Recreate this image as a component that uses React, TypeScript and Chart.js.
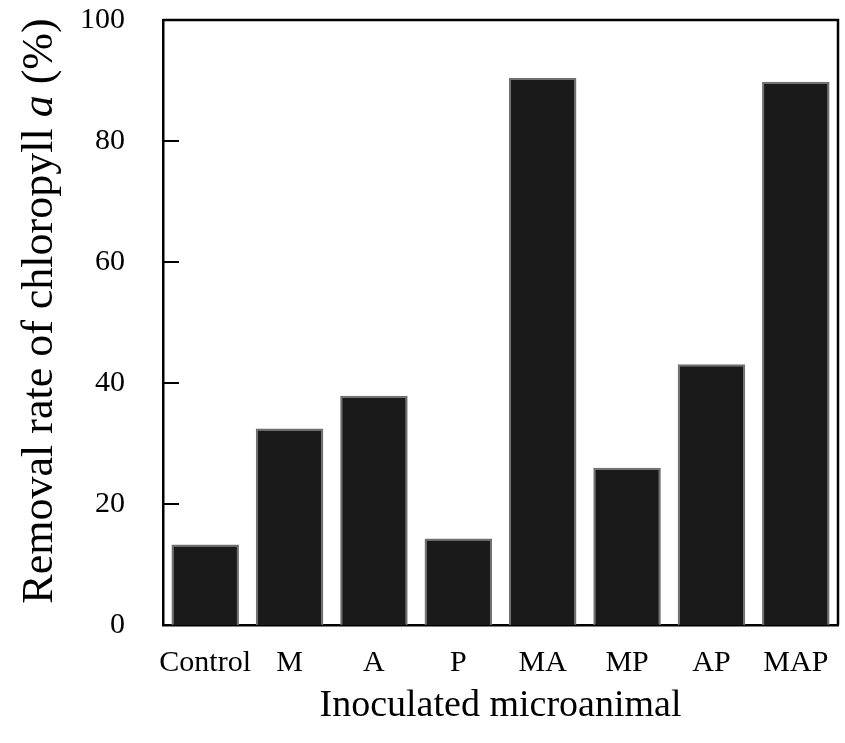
import React, { useEffect, useRef } from "react";
import { Chart, registerables } from "chart.js";

Chart.register(...registerables);

// Treatments and removal rates (%) of chlorophyll a
const categories = ["Control", "M", "A", "P", "MA", "MP", "AP", "MAP"];
const removalRate = [13.3, 32.5, 37.9, 14.3, 90.4, 26.0, 43.1, 89.8];
const yTicks = [0, 20, 40, 60, 80, 100];

const FONT = "'Liberation Serif', 'Times New Roman', serif";
const W = 845;
const H = 743;

// Frame lines, inward ticks and the axis titles (the y title has an italic "a")
const decorations = {
  id: "decorations",
  afterDraw(chart: any) {
    const { ctx, chartArea } = chart;
    const y = chart.scales.y;
    ctx.save();
    ctx.strokeStyle = "#000";
    ctx.lineWidth = 2.5;
    ctx.beginPath();
    ctx.moveTo(chartArea.left, chartArea.top);
    ctx.lineTo(chartArea.right, chartArea.top);
    ctx.lineTo(chartArea.right, chartArea.bottom);
    ctx.stroke();

    ctx.lineWidth = 2;
    for (const v of yTicks) {
      if (v === 0 || v === 100) continue;
      const py = y.getPixelForValue(v);
      ctx.beginPath();
      ctx.moveTo(chartArea.left, py);
      ctx.lineTo(chartArea.left + 16, py);
      ctx.stroke();
    }

    // x axis title
    ctx.fillStyle = "#000";
    ctx.font = `38px ${FONT}`;
    ctx.textAlign = "center";
    ctx.textBaseline = "middle";
    ctx.fillText("Inoculated microanimal", (chartArea.left + chartArea.right) / 2, 706);

    // y axis title, rotated
    const parts = [
      { t: "Removal rate of chloropyll ", f: `44px ${FONT}` },
      { t: "a", f: `italic 44px ${FONT}` },
      { t: " (%)", f: `44px ${FONT}` },
    ];
    let total = 0;
    for (const p of parts) {
      ctx.font = p.f;
      total += ctx.measureText(p.t).width;
    }
    ctx.translate(40, 311);
    ctx.rotate(-Math.PI / 2);
    ctx.textAlign = "left";
    let x = -total / 2;
    for (const p of parts) {
      ctx.font = p.f;
      ctx.fillText(p.t, x, 0);
      x += ctx.measureText(p.t).width;
    }
    ctx.restore();
  },
};

export default function App() {
  const canvasRef = useRef<HTMLCanvasElement | null>(null);

  useEffect(() => {
    if (!canvasRef.current) return;
    const chart = new Chart(canvasRef.current, {
      type: "bar",
      data: {
        labels: categories,
        datasets: [
          {
            data: removalRate,
            backgroundColor: "#1a1a1a",
            borderColor: "#707070",
            borderWidth: 2,
            barPercentage: 0.8,
            categoryPercentage: 1.0,
          },
        ],
      },
      options: {
        responsive: false,
        animation: false,
        devicePixelRatio: 1,
        layout: { padding: { top: 20, right: 7, left: 0, bottom: 0 } },
        plugins: {
          legend: { display: false },
          tooltip: { enabled: false },
          title: { display: false },
        },
        scales: {
          x: {
            grid: { display: false, drawTicks: false },
            border: { display: true, color: "#000", width: 2.5 },
            ticks: {
              color: "#000",
              font: { family: FONT, size: 30 },
              padding: 20,
              maxRotation: 0,
              autoSkip: false,
            },
            afterFit(scale: any) {
              scale.height = H - 20 - 605;
              scale.paddingLeft = 0;
              scale.paddingRight = 0;
            },
          },
          y: {
            min: 0,
            max: 100,
            grid: { display: false, drawTicks: false },
            border: { display: true, color: "#000", width: 2.5 },
            afterBuildTicks(scale: any) {
              scale.ticks = yTicks.map((v) => ({ value: v }));
            },
            ticks: {
              color: "#000",
              font: { family: FONT, size: 30 },
              padding: 38,
            },
            afterFit(scale: any) {
              scale.width = 163;
              scale.paddingTop = 0;
              scale.paddingBottom = 0;
            },
          },
        },
      },
      plugins: [decorations],
    });
    return () => chart.destroy();
  }, []);

  return (
    <div style={{ position: "fixed", left: 0, top: 0, width: W, height: H, background: "#fff" }}>
      <canvas ref={canvasRef} width={W} height={H} />
    </div>
  );
}
